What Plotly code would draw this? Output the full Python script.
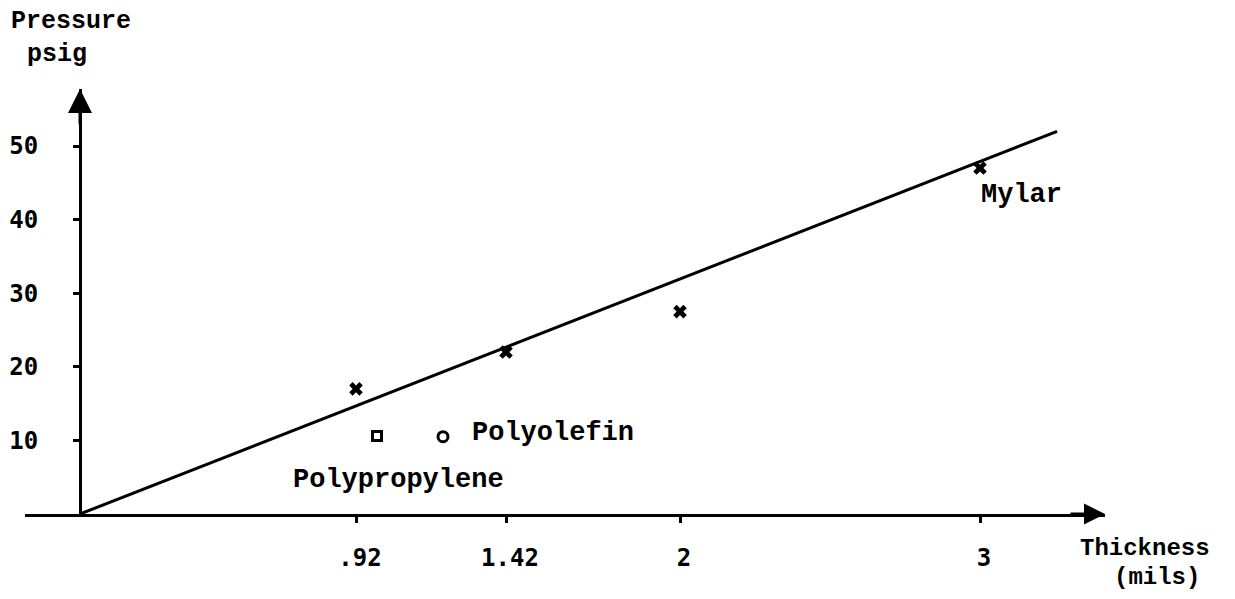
import plotly.graph_objects as go

# Data
mylar_x = [0.92, 1.42, 2.0, 3.0]
mylar_y = [17, 22, 27.5, 47]
polypropylene_x = [0.99]
polypropylene_y = [10.6]
polyolefin_x = [1.21]
polyolefin_y = [10.5]
fit_x = [0, 3.257]
fit_y = [0, 52]
x_tick_vals = [0.92, 1.42, 2, 3]
x_tick_text = [".92", "1.42", "2", "3"]
y_tick_vals = [10, 20, 30, 40, 50]
y_tick_text = ["10", "20", "30", "40", "50"]

# page is offset by the default body margin (8px)
OFF = 8
W, H = 1235 - 2 * OFF, 599 - 2 * OFF


def px(p):  # page x pixel -> paper x
    return (p - OFF) / W


def py(p):  # page y pixel -> paper y
    return (H - (p - OFF)) / H


TEXT_FONT = dict(family="Liberation Mono", size=27, color="black", weight="bold")
EDGE_FONT = dict(family="Liberation Mono", size=25, color="black", weight="bold")
AXIS_FONT = dict(family="Liberation Mono", size=24, color="black", weight="bold")
NUM_FONT = dict(family="DejaVu Sans Mono", size=24, color="black", weight="bold")

fig = go.Figure()
fig.add_trace(go.Scatter(x=fit_x, y=fit_y, mode="lines",
                         line=dict(color="black", width=3), cliponaxis=False,
                         hoverinfo="skip"))
fig.add_trace(go.Scatter(x=mylar_x, y=mylar_y, mode="markers",
                         marker=dict(symbol="x", size=12, color="black",
                                     line=dict(width=0)), cliponaxis=False))
fig.add_trace(go.Scatter(x=polypropylene_x, y=polypropylene_y, mode="markers",
                         marker=dict(symbol="square-open", size=9, color="black",
                                     line=dict(width=3)), cliponaxis=False))
fig.add_trace(go.Scatter(x=polyolefin_x, y=polyolefin_y, mode="markers",
                         marker=dict(symbol="circle-open", size=10, color="black",
                                     line=dict(width=3)), cliponaxis=False))

# axis geometry in page pixels: origin (80, 514), 300 px per mil, 7.36 px per psi
x0, x1 = (25 - 80) / 300, (1105 - 80) / 300
y0, y1 = 0, (514 - 89) / 7.36


def label(x, y, text, font=EDGE_FONT):
    return dict(xref="paper", yref="paper", x=px(x), y=py(y), text=text,
                xanchor="center", yanchor="middle", showarrow=False,
                borderpad=0, font=font)


annotations = [
    dict(x=3.137, y=43.3, text="Mylar", showarrow=False, font=TEXT_FONT),
    dict(x=1.30, y=11.0, text="Polyolefin", showarrow=False, xanchor="left", font=TEXT_FONT),
    dict(x=1.063, y=4.6, text="Polypropylene", showarrow=False, font=TEXT_FONT),
    label(1145, 548, "Thickness", AXIS_FONT),
    label(1157, 577, "(mils)", AXIS_FONT),
    label(71, 22, "Pressure"),
    label(57, 55, "psig"),
    # axis arrowheads
    dict(x=x1, y=0, ax=x1 - 0.12, ay=0, axref="x", ayref="y", text="",
         showarrow=True, arrowhead=2, arrowsize=1.4, arrowwidth=3, arrowcolor="black"),
    dict(x=0, y=y1, ax=0, ay=y1 - 5, axref="x", ayref="y", text="",
         showarrow=True, arrowhead=2, arrowsize=1.6, arrowwidth=3, arrowcolor="black"),
]

fig.update_layout(
    width=W, height=H,
    margin=dict(l=0, r=0, t=0, b=0),
    paper_bgcolor="white", plot_bgcolor="white",
    showlegend=False,
    annotations=annotations,
    xaxis=dict(domain=[px(25), px(1105)], range=[x0, x1], showgrid=False,
               zeroline=False, showline=True, linecolor="black", linewidth=3,
               ticks="outside", ticklen=6, tickwidth=3, tickcolor="black",
               tickvals=x_tick_vals, ticktext=x_tick_text, tickfont=NUM_FONT,
               ticklabelstandoff=14, ticklabelshift=4, fixedrange=True),
    yaxis=dict(domain=[py(514), py(89)], range=[y0, y1], showgrid=False,
               zeroline=False, showline=True, linecolor="black", linewidth=3,
               anchor="free", position=px(80),
               ticks="outside", ticklen=6, tickwidth=3, tickcolor="black",
               tickvals=y_tick_vals, ticktext=y_tick_text, tickfont=NUM_FONT,
               ticklabelstandoff=30, fixedrange=True),
)

fig.write_html("out.html")
